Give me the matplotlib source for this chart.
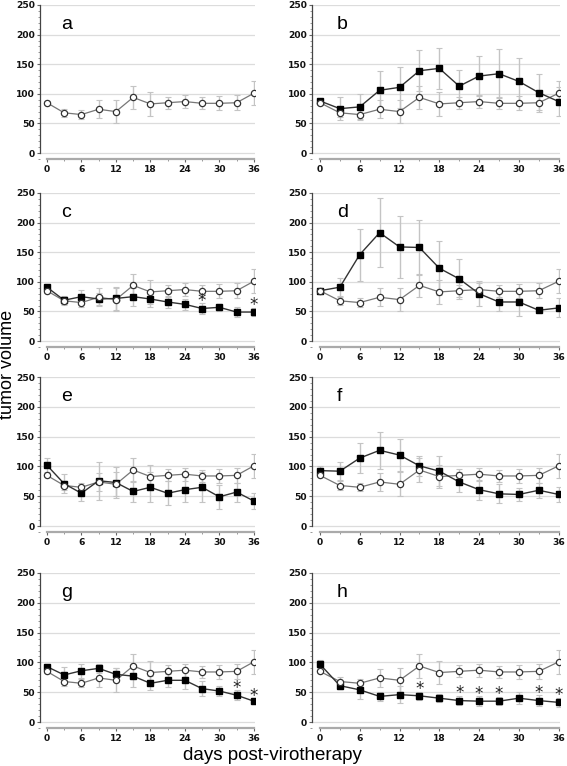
import matplotlib
matplotlib.use('Agg')
import matplotlib.pyplot as plt
from matplotlib.ticker import MultipleLocator

days = [0, 3, 6, 9, 12, 15, 18, 21, 24, 27, 30, 33, 36]

# control (open circles), identical in every panel
control = [85, 68, 65, 74, 70, 94, 83, 85, 87, 84, 84, 85, 101]
control_err = [3, 7, 7, 15, 20, 20, 20, 10, 11, 10, 12, 13, 20]

# treatment groups (filled squares), panels b-h
treat = {
    'b': [88, 75, 78, 106, 111, 139, 143, 113, 130, 134, 121, 102, 87],
    'c': [91, 69, 75, 71, 72, 75, 71, 66, 62, 55, 57, 49, 49],
    'd': [85, 91, 146, 183, 159, 158, 123, 105, 80, 66, 66, 52, 56],
    'e': [102, 71, 55, 76, 73, 58, 65, 55, 61, 65, 49, 57, 42],
    'f': [93, 92, 114, 127, 119, 101, 92, 74, 61, 54, 53, 60, 53],
    'g': [93, 79, 86, 90, 80, 77, 65, 70, 70, 56, 52, 45, 35],
    'h': [97, 61, 54, 43, 46, 44, 40, 36, 35, 35, 40, 36, 33],
}
treat_err = {
    'b': [3, 19, 22, 33, 35, 35, 35, 27, 34, 41, 40, 32, 25],
    'c': [4, 7, 12, 10, 19, 15, 14, 10, 9, 9, 6, 8, 7],
    'd': [3, 15, 44, 58, 53, 47, 46, 34, 21, 16, 24, 3, 16],
    'e': [12, 16, 13, 32, 26, 18, 25, 20, 21, 25, 20, 16, 13],
    'f': [7, 15, 25, 31, 27, 17, 25, 17, 17, 16, 11, 13, 13],
    'g': [5, 14, 12, 8, 11, 18, 12, 11, 15, 13, 8, 8, 4],
    'h': [7, 6, 15, 7, 14, 7, 7, 8, 8, 7, 10, 9, 8],
}
# days marked as significant (*)
stars = {
    'c': [27, 36],
    'g': [33, 36],
    'h': [15, 21, 24, 27, 33, 36],
}

panels = ['a', 'b', 'c', 'd', 'e', 'f', 'g', 'h']

W, H = 567, 766
fig = plt.figure(figsize=(W / 100, H / 100), dpi=100)

# pixel layout: column (left, right) and row (top, bottom)
cols = [(40, 255), (312, 560)]
rows = [(5, 159), (193, 347), (377, 532), (573, 728)]

err_col = '#c4c4c4'
for i, p in enumerate(panels):
    c0, c1 = cols[i % 2]
    r0, r1 = rows[i // 2]
    ax = fig.add_axes([c0 / W, 1 - r1 / H, (c1 - c0) / W, (r1 - r0) / H])
    ax.set_xlim(-1.2, 36.2)
    ax.set_ylim(-10, 250)
    for y in range(0, 251, 50):
        ax.axhline(y, color='#dcdcdc', lw=0.9, zorder=0)

    ax.errorbar(days, control, yerr=control_err, fmt='none', ecolor=err_col,
                elinewidth=1.0, capsize=2, capthick=0.8, zorder=1)
    ax.plot(days, control, '-', color='#777777', lw=0.9, zorder=2)
    ax.plot(days, control, 'o', ms=4.5, mfc='white', mec='#333333', mew=0.9, zorder=4)

    if p in treat:
        ax.errorbar(days, treat[p], yerr=treat_err[p], fmt='none', ecolor=err_col,
                    elinewidth=1.0, capsize=2, capthick=0.8, zorder=1)
        ax.plot(days, treat[p], '-s', color='#333333', lw=1.0, ms=4.3,
                mfc='black', mec='black', zorder=3)
    for d in stars.get(p, []):
        k = days.index(d)
        ax.text(d, treat[p][k] + treat_err[p][k] - 4, '*', ha='center', va='baseline',
                fontsize=12, color='#222222', zorder=5)

    ax.text(0.10, 0.93, p, transform=ax.transAxes, fontsize=14, va='top',
            family='Liberation Sans')

    for s in ['top', 'right']:
        ax.spines[s].set_visible(False)
    ax.spines['left'].set_bounds(0, 250)
    ax.spines['left'].set_color('#444444')
    ax.spines['left'].set_linewidth(0.9)
    ax.spines['bottom'].set_bounds(0, 36)
    ax.spines['bottom'].set_color('#aaaaaa')
    ax.spines['bottom'].set_linewidth(1.6)

    ax.set_xticks(range(0, 37, 6))
    ax.xaxis.set_minor_locator(MultipleLocator(3))
    ax.set_yticks(range(0, 251, 50))
    ax.yaxis.set_minor_locator(MultipleLocator(10))
    ax.tick_params(axis='both', which='major', labelsize=6.6, length=2.5, width=0.8,
                   color='#666666', labelcolor='#111111')
    ax.tick_params(axis='both', which='minor', length=1.5, width=0.6, color='#888888')
    ax.tick_params(axis='x', pad=2)
    ax.tick_params(axis='y', pad=1)
    for lab in ax.get_xticklabels() + ax.get_yticklabels():
        lab.set_fontweight('bold')

fig.text(8 / W, 1 - 364 / H, 'tumor volume', rotation=90, ha='center', va='center',
         fontsize=13, family='Liberation Sans')
fig.text(272 / W, 1 - 756 / H, 'days post-virotherapy', ha='center', va='center',
         fontsize=13.5, family='Liberation Sans')

fig.savefig('out.png', dpi=100)
